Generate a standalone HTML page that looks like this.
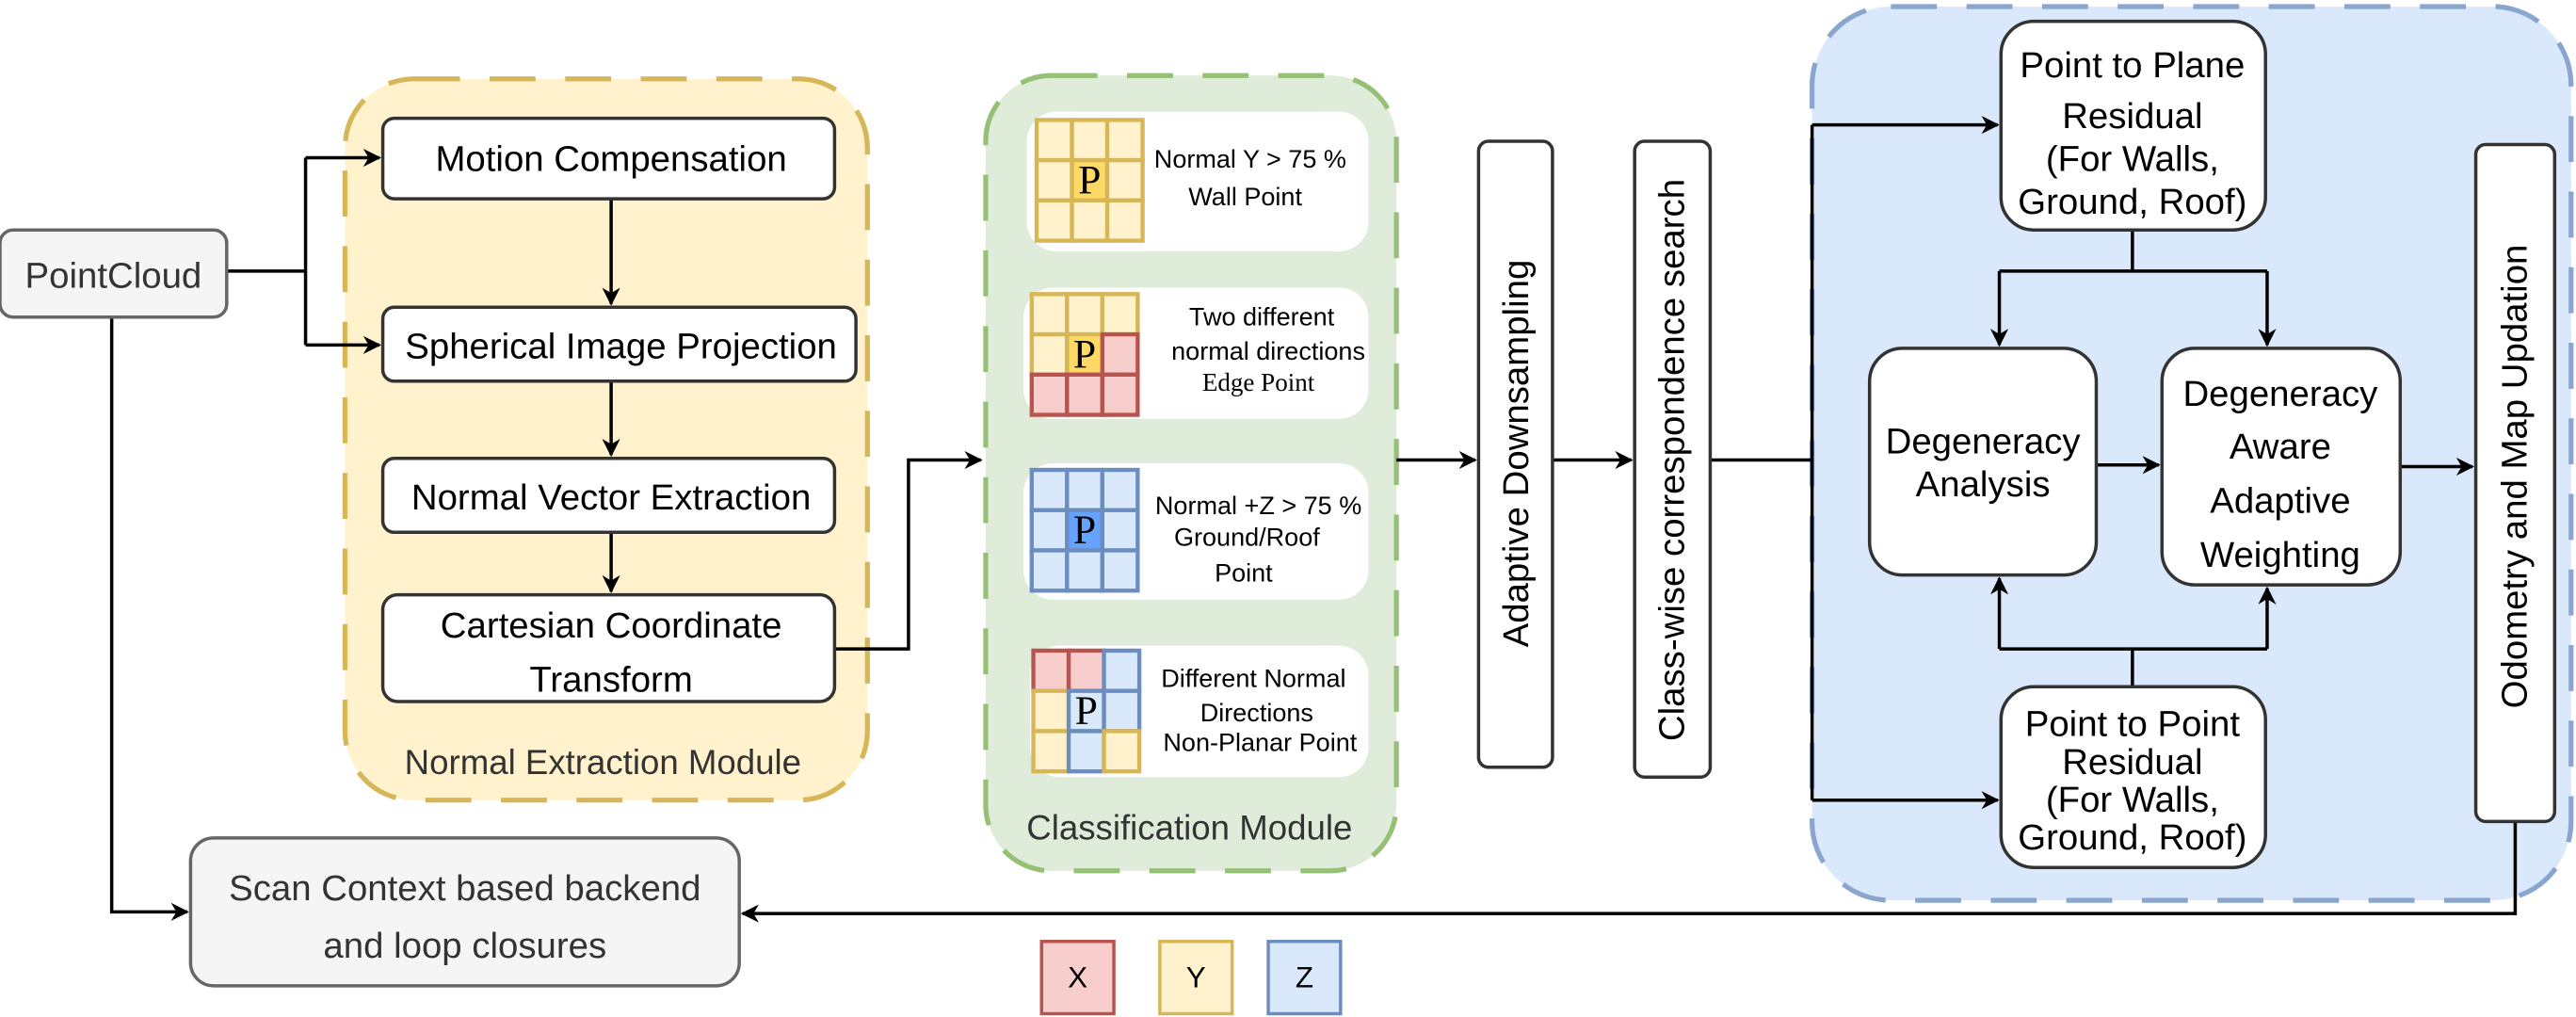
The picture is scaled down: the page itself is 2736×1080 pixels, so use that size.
<!DOCTYPE html>
<html><head><meta charset="utf-8"><style>
html,body{margin:0;padding:0;background:#fff;}
svg{display:block;}
text{font-family:"Liberation Sans",sans-serif;fill:#000;}
</style></head><body>
<svg id="s" width="2736" height="1080" viewBox="0 0 1568 619" preserveAspectRatio="none" xmlns="http://www.w3.org/2000/svg">
<defs>
<marker id="a" viewBox="0 0 10 10" refX="9" refY="5" markerWidth="11" markerHeight="11" orient="auto" markerUnits="userSpaceOnUse"><path d="M0,0 L10,5 L0,10 L3,5 z" fill="#000"/></marker>
</defs>
<rect x="210" y="48" width="318" height="439" rx="42" fill="#fff2cc" stroke="#d6b656" stroke-width="3" stroke-dasharray="28,18"/>
<rect x="600" y="46" width="250" height="484" rx="40" fill="#dfecd9" stroke="#97c077" stroke-width="3" stroke-dasharray="28,18"/>
<rect x="1103" y="4" width="462" height="544" rx="48" fill="#dae8fc" stroke="#8aa6cf" stroke-width="3" stroke-dasharray="28,18"/>
<text x="367" y="471" font-size="21" text-anchor="middle" style="fill:#333">Normal Extraction Module</text>
<text x="724" y="511" font-size="21" text-anchor="middle" style="fill:#333">Classification Module</text>

<g stroke="#000" stroke-width="2" fill="none">
<path d="M138,165 H186 M186,96 V210" />
<path d="M186,96 H231" marker-end="url(#a)"/>
<path d="M186,210 H231" marker-end="url(#a)"/>
<path d="M372,121 V185" marker-end="url(#a)"/>
<path d="M372,232 V277" marker-end="url(#a)"/>
<path d="M372,324 V360" marker-end="url(#a)"/>
<path d="M508,395 H553 V280 H597" marker-end="url(#a)"/>
<path d="M850,280 H898" marker-end="url(#a)"/>
<path d="M945,280 H993" marker-end="url(#a)"/>
<path d="M1041,280 H1103 M1103,76 V487"/>
<path d="M1103,76 H1216" marker-end="url(#a)"/>
<path d="M1103,487 H1216" marker-end="url(#a)"/>
<path d="M1298,140 V165 M1217,165 H1380"/>
<path d="M1217,165 V210" marker-end="url(#a)"/>
<path d="M1380,165 V210" marker-end="url(#a)"/>
<path d="M1276,283 H1314" marker-end="url(#a)"/>
<path d="M1298,418 V395 M1217,395 H1380"/>
<path d="M1217,395 V352" marker-end="url(#a)"/>
<path d="M1380,395 V358" marker-end="url(#a)"/>
<path d="M1461,284 H1505" marker-end="url(#a)"/>
<path d="M1531,500 V556 H452" marker-end="url(#a)"/>
<path d="M68,193 V555 H114" marker-end="url(#a)"/>
</g>

<g stroke="#333" stroke-width="2">
<rect x="0" y="140" width="138" height="53" rx="8" fill="#f5f5f5" stroke="#666"/>
<rect x="116" y="510" width="334" height="90" rx="14" fill="#f5f5f5" stroke="#666"/>
<rect x="233" y="72" width="275" height="49" rx="7" fill="#fff"/>
<rect x="233" y="187" width="288" height="45" rx="7" fill="#fff"/>
<rect x="233" y="279" width="275" height="45" rx="7" fill="#fff"/>
<rect x="233" y="362" width="275" height="65" rx="9" fill="#fff"/>
<rect x="900" y="86" width="45" height="381" rx="6" fill="#fff"/>
<rect x="995" y="86" width="46" height="387" rx="6" fill="#fff"/>
<rect x="1218" y="13" width="161" height="127" rx="20" fill="#fff"/>
<rect x="1138" y="212" width="138" height="138" rx="20" fill="#fff"/>
<rect x="1316" y="212" width="145" height="144" rx="20" fill="#fff"/>
<rect x="1218" y="418" width="161" height="110" rx="20" fill="#fff"/>
<rect x="1507" y="88" width="48" height="412" rx="6" fill="#fff"/>
</g>
<g fill="#fff" stroke="none">
<rect x="625" y="68" width="208" height="85" rx="18"/>
<rect x="623" y="175" width="210" height="80" rx="18"/>
<rect x="623" y="282" width="210" height="83" rx="18"/>
<rect x="627" y="393" width="206" height="80" rx="18"/>
</g>
<g id="grids"></g>

<g font-size="22" text-anchor="middle">
<text x="69" y="175" style="fill:#333">PointCloud</text>
<text x="372" y="104">Motion Compensation</text>
<text x="378" y="218">Spherical Image Projection</text>
<text x="372" y="310">Normal Vector Extraction</text>
<text x="372" y="388">Cartesian Coordinate</text>
<text x="372" y="421">Transform</text>
<text x="283" y="548" style="fill:#333">Scan Context based backend</text>
<text x="283" y="583" style="fill:#333">and loop closures</text>
<text transform="translate(930,276) rotate(-90)">Adaptive Downsampling</text>
<text transform="translate(1025,280) rotate(-90)">Class-wise correspondence search</text>
<text transform="translate(1538,290) rotate(-90)">Odometry and Map Updation</text>
<text x="1298" y="47">Point to Plane</text>
<text x="1298" y="78">Residual</text>
<text x="1298" y="104">(For Walls,</text>
<text x="1298" y="130">Ground, Roof)</text>
<text x="1207" y="276">Degeneracy</text>
<text x="1207" y="302">Analysis</text>
<text x="1388" y="247">Degeneracy</text>
<text x="1388" y="279">Aware</text>
<text x="1388" y="312">Adaptive</text>
<text x="1388" y="345">Weighting</text>
<text x="1298" y="448">Point to Point</text>
<text x="1298" y="471">Residual</text>
<text x="1298" y="494">(For Walls,</text>
<text x="1298" y="517">Ground, Roof)</text>
</g>
<g font-size="15.5" text-anchor="middle">
<text x="761" y="102">Normal Y &gt; 75 %</text>
<text x="758" y="125">Wall Point</text>
<text x="768" y="198">Two different</text>
<text x="772" y="219">normal directions</text>
<text x="766" y="238" style="font-family:'Liberation Serif',serif">Edge Point</text>
<text x="766" y="313">Normal +Z &gt; 75 %</text>
<text x="759" y="332">Ground/Roof</text>
<text x="757" y="354">Point</text>
<text x="763" y="418">Different Normal</text>
<text x="765" y="439">Directions</text>
<text x="767" y="457">Non-Planar Point</text>
</g>
<rect x="634" y="573" width="44" height="44" fill="#f8cecc" stroke="#b85450" stroke-width="2"/>
<rect x="706" y="573" width="44" height="44" fill="#fff2cc" stroke="#d6b656" stroke-width="2"/>
<rect x="772" y="573" width="44" height="44" fill="#dae8fc" stroke="#6c8ebf" stroke-width="2"/>
<g font-size="18" text-anchor="middle">
<text x="656" y="601">X</text><text x="728" y="601">Y</text><text x="794" y="601">Z</text>
</g>
</svg>
<script>
var C={Y:["#fff2cc","#d6b656"],y:["#ffd966","#d6b656"],R:["#f8cecc","#b85450"],B:["#dae8fc","#6c8ebf"],b:["#66a3ff","#6c8ebf"]};
var G=[[631,73,"YYYYyYYYY"],[628,179,"YYYYyRRRR"],[628,286,"BBBBbBBBB"],[629,396,"RRBYBBYBY"]];
var g=document.getElementById("grids"),ns="http://www.w3.org/2000/svg",cw=21.5,ch=24.5;
G.forEach(function(q){for(var i=0;i<9;i++){var r=document.createElementNS(ns,"rect"),c=C[q[2][i]];
r.setAttribute("x",q[0]+(i%3)*cw);r.setAttribute("y",q[1]+Math.floor(i/3)*ch);r.setAttribute("width",cw);r.setAttribute("height",ch);
r.setAttribute("fill",c[0]);r.setAttribute("stroke",c[1]);r.setAttribute("stroke-width","2.5");g.appendChild(r);}
var t=document.createElementNS(ns,"text");t.setAttribute("x",q[0]+1.5*cw);t.setAttribute("y",q[1]+1.5*ch+8);t.setAttribute("text-anchor","middle");
t.setAttribute("font-size","25");t.setAttribute("style","font-family:'Liberation Serif',serif");t.textContent="P";g.appendChild(t);});
</script>
</body></html>
